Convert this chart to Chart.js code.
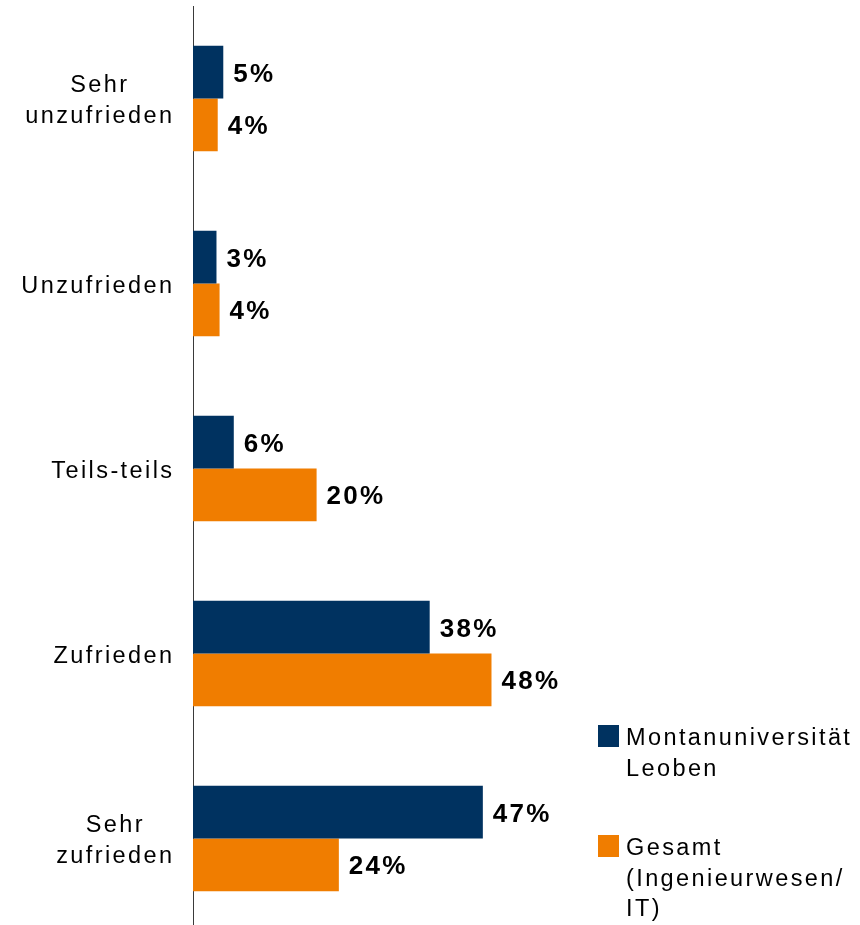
<!DOCTYPE html>
<html><head><meta charset="utf-8">
<script src="https://cdn.jsdelivr.net/npm/chart.js@4"></script>
<style>
html,body{margin:0;padding:0;background:#fff;overflow:hidden;width:860px;height:925px;}
#wrap{position:relative;width:860px;height:925px;overflow:hidden;}
canvas{position:absolute;left:0;top:0;}
.leg{position:absolute;font-family:"Liberation Sans",Arial,sans-serif;font-size:23.5px;letter-spacing:2.4px;line-height:30.5px;color:#000;white-space:nowrap;}
.sw{position:absolute;width:21px;height:22px;}
</style></head>
<body><div id="wrap"><canvas id="c" width="860" height="931"></canvas></div>
<script>
const categories = [["Sehr","unzufrieden"],["Unzufrieden"],["Teils-teils"],["Zufrieden"],["Sehr","zufrieden"]];
const seriesNames = [["Montanuniversität","Leoben"],["Gesamt","(Ingenieurwesen/","IT)"]];
const montanValues = [4.9,3.8,6.6,38.3,46.9];
const gesamtValues = [4.0,4.3,20.0,48.3,23.6];
const montanLabels = ["5%","3%","6%","38%","47%"];
const gesamtLabels = ["4%","4%","20%","48%","24%"];
const seriesColors = ["#003260","#F07D00"];

const FONT = '"Liberation Sans", Arial, sans-serif';
const LS = 2.4;

// legend as HTML text
const wrap = document.getElementById('wrap');
const legTops = [[725,722],[835,832]];
seriesNames.forEach((lines,i)=>{
  const sw = document.createElement('div');
  sw.className='sw'; sw.style.background=seriesColors[i];
  sw.style.left='598px'; sw.style.top=legTops[i][0]+'px';
  wrap.appendChild(sw);
  const t = document.createElement('div');
  t.className='leg'; t.style.left='626px'; t.style.top=legTops[i][1]+'px';
  t.innerHTML = lines.map(l=>'<div>'+l+'</div>').join('');
  wrap.appendChild(t);
});

// category labels drawn at the y scale's tick positions
const catLabels = {id:'catLabels', afterDraw(chart){
  const ctx = chart.ctx, ys = chart.scales.y;
  ctx.save();
  ctx.font = '23.5px ' + FONT; ctx.letterSpacing = LS + 'px';
  ctx.fillStyle = '#000'; ctx.textAlign = 'left'; ctx.textBaseline = 'alphabetic';
  const right = 172, lh = 30.5;
  chart.data.labels.forEach((c,i)=>{
    const lines = Array.isArray(c) ? c : [c];
    const widths = lines.map(l=>ctx.measureText(l).width - LS);
    const bw = Math.max(...widths);
    const cx = right - bw/2;
    const yc = ys.getPixelForTick(i);
    lines.forEach((l,k)=>{
      const base = yc + (k - (lines.length-1)/2)*lh + 9;
      ctx.fillText(l, cx - widths[k]/2, base);
    });
  });
  ctx.restore();
}};

const valueLabels = {id:'valueLabels', afterDatasetsDraw(chart){
  const ctx = chart.ctx; ctx.save();
  ctx.font = 'bold 26px ' + FONT; ctx.letterSpacing = '2.3px';
  ctx.fillStyle = '#000'; ctx.textAlign = 'left'; ctx.textBaseline = 'alphabetic';
  const labels = [montanLabels, gesamtLabels];
  chart.data.datasets.forEach((ds,i)=>{
    chart.getDatasetMeta(i).data.forEach((bar,j)=>{
      ctx.fillText(labels[i][j], bar.x + 10, bar.y + 9.5);
    });
  });
  ctx.restore();
}};

new Chart(document.getElementById('c'), {
  type:'bar',
  data:{
    labels: categories,
    datasets:[
      {label:seriesNames[0].join(' '), data:montanValues, backgroundColor:seriesColors[0], barPercentage:1, categoryPercentage:0.57},
      {label:seriesNames[1].join(' '), data:gesamtValues, backgroundColor:seriesColors[1], barPercentage:1, categoryPercentage:0.57}
    ]
  },
  options:{
    indexAxis:'y', responsive:false, animation:false,
    layout:{padding:{top:6,right:49,bottom:0,left:0}},
    plugins:{legend:{display:false}, tooltip:{enabled:false}},
    scales:{
      x:{display:false, min:0, max:100},
      y:{
        grid:{display:false, drawTicks:false},
        border:{display:true, color:'#3a3a3a', width:1},
        ticks:{display:false, autoSkip:false},
        afterFit(s){ s.width = 193; s.paddingTop = 0; s.paddingBottom = 0; }
      }
    }
  },
  plugins:[catLabels, valueLabels]
});
</script>
</body></html>
